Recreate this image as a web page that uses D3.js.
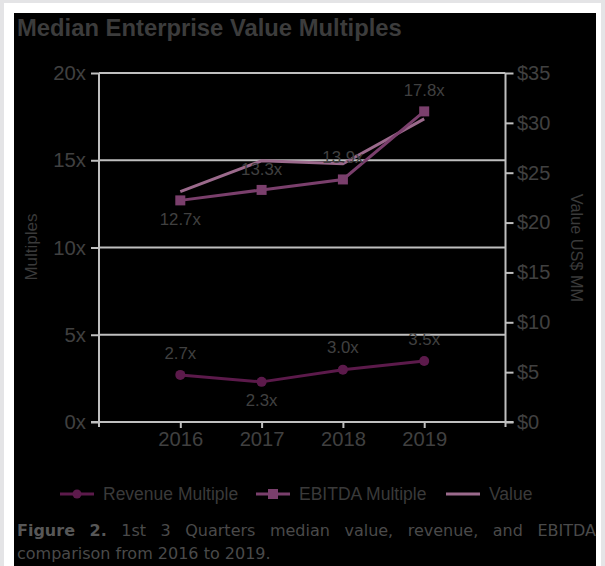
<!DOCTYPE html>
<html><head><meta charset="utf-8">
<script src="https://cdn.jsdelivr.net/npm/d3@7"></script>
<style>
html,body{margin:0;padding:0;background:#fff;}
svg{display:block;}
</style></head>
<body>
<script>
const years = [2016, 2017, 2018, 2019];
const revenueMultiple = [2.7, 2.3, 3.0, 3.5];
const ebitdaMultiple = [12.7, 13.3, 13.9, 17.8];
const valueMM = [23.1, 26.2, 25.9, 30.4];
const leftTicks = [0, 5, 10, 15, 20];
const rightTicks = [0, 5, 10, 15, 20, 25, 30, 35];
const seriesNames = ["Revenue Multiple", "EBITDA Multiple", "Value"];
const title = "Median Enterprise Value Multiples";
const captionLine1 = "1st 3 Quarters median value, revenue, and EBITDA";
const captionLine2 = "comparison from 2016 to 2019.";

const W = 605, H = 566;
const svg = d3.select("body").append("svg").attr("width", W).attr("height", H);

// frame
svg.append("rect").attr("x",0).attr("y",0).attr("width",W).attr("height",H).attr("fill","#e4e4e6");
svg.append("rect").attr("x",4).attr("y",3).attr("width",597).attr("height",H).attr("fill","#ffffff");
svg.append("rect").attr("x",14).attr("y",13).attr("width",582).attr("height",H).attr("fill","#000000");

const cRev = "#5c1a4b", cEb = "#7a3f6c", cVal = "#9b6a8c";
const txt = "#404040", grid = "#bfbfbf";
const font = "'Liberation Sans', Arial, sans-serif";

svg.append("text").attr("x",17).attr("y",36).text(title)
  .attr("font-family",font).attr("font-weight","bold").attr("font-size",23.8).attr("fill","#3c3c3c");

const x0 = 99, x1 = 505.5, yTop = 73, yBot = 422;
const x = d3.scaleLinear().domain([2015, 2020]).range([x0, x1]);
const yL = d3.scaleLinear().domain([0, 20]).range([yBot, yTop]);
const yR = d3.scaleLinear().domain([0, 35]).range([yBot, yTop]);

// gridlines
svg.append("g").selectAll("line").data(leftTicks.filter(d=>d>0)).join("line")
  .attr("x1", x0).attr("x2", x1).attr("y1", d=>yL(d)).attr("y2", d=>yL(d))
  .attr("stroke", grid).attr("stroke-width", 2);

// left axis
const gl = svg.append("g").attr("transform",`translate(${x0},0)`)
  .call(d3.axisLeft(yL).tickValues(leftTicks).tickFormat(d=>d+"x").tickSizeOuter(0).tickSize(8).tickPadding(5));
gl.select(".domain").remove();
gl.selectAll("line").attr("stroke",grid).attr("stroke-width",2);
gl.selectAll("text").attr("font-family",font).attr("font-size",20.3).attr("fill",txt);
svg.append("line").attr("x1",x0).attr("x2",x0).attr("y1",yTop).attr("y2",yBot+5).attr("stroke",grid).attr("stroke-width",2);

// right axis
const gr = svg.append("g").attr("transform",`translate(${x1},0)`)
  .call(d3.axisRight(yR).tickValues(rightTicks).tickFormat(d=>"$"+d).tickSizeOuter(0).tickSize(8).tickPadding(3.5));
gr.select(".domain").remove();
gr.selectAll("line").attr("stroke",grid).attr("stroke-width",2);
gr.selectAll("text").attr("font-family",font).attr("font-size",20).attr("fill",txt);
svg.append("line").attr("x1",x1).attr("x2",x1).attr("y1",yTop).attr("y2",yBot+5).attr("stroke",grid).attr("stroke-width",2);

// bottom axis
const gb = svg.append("g").attr("transform",`translate(0,${yBot})`)
  .call(d3.axisBottom(x).tickValues(years).tickFormat(d3.format("d")).tickSizeOuter(0).tickSize(6).tickPadding(4));
gb.select(".domain").remove();
gb.selectAll("line").attr("stroke",grid).attr("stroke-width",2);
gb.selectAll("text").attr("font-family",font).attr("font-size",20.2).attr("fill",txt);
svg.append("line").attr("x1",x0-8).attr("x2",x1+8).attr("y1",yBot).attr("y2",yBot).attr("stroke",grid).attr("stroke-width",2);

// axis titles
svg.append("text").attr("transform",`translate(31,247) rotate(-90)`).attr("text-anchor","middle").attr("dy","0.35em")
  .attr("font-family",font).attr("font-size",17).attr("fill","#3a3a3a").text("Multiples");
svg.append("text").attr("transform",`translate(577,248) rotate(90)`).attr("text-anchor","middle").attr("dy","0.35em")
  .attr("font-family",font).attr("font-size",16.3).attr("fill","#3a3a3a").text("Value US$ MM");

// lines
const lineR = d3.line().x((d,i)=>x(years[i])).y(d=>yR(d));
const lineL = d3.line().x((d,i)=>x(years[i])).y(d=>yL(d));
svg.append("path").datum(valueMM).attr("d",lineR).attr("fill","none").attr("stroke",cVal).attr("stroke-width",3);

svg.append("path").datum(ebitdaMultiple).attr("d",lineL).attr("fill","none").attr("stroke",cEb).attr("stroke-width",3);
svg.append("g").selectAll("rect").data(ebitdaMultiple).join("rect")
  .attr("x",(d,i)=>x(years[i])-5).attr("y",d=>yL(d)-5).attr("width",10).attr("height",10).attr("fill",cEb);

svg.append("path").datum(revenueMultiple).attr("d",lineL).attr("fill","none").attr("stroke",cRev).attr("stroke-width",3);
svg.append("g").selectAll("circle").data(revenueMultiple).join("circle")
  .attr("cx",(d,i)=>x(years[i])).attr("cy",d=>yL(d)).attr("r",5).attr("fill",cRev);

// data labels
const revOff = [-22, 18, -22.5, -22];
const ebOff = [18.5, -21, -22.5, -21];
svg.append("g").selectAll("text").data(revenueMultiple).join("text")
  .attr("x",(d,i)=>x(years[i])).attr("y",(d,i)=>yL(d)+revOff[i]).attr("dy","0.35em").attr("text-anchor","middle")
  .attr("font-family",font).attr("font-size",16.8).attr("fill",txt).text(d=>d.toFixed(1)+"x");
svg.append("g").selectAll("text").data(ebitdaMultiple).join("text")
  .attr("x",(d,i)=>x(years[i])).attr("y",(d,i)=>yL(d)+ebOff[i]).attr("dy","0.35em").attr("text-anchor","middle")
  .attr("font-family",font).attr("font-size",16.8).attr("fill",txt).text(d=>d.toFixed(1)+"x");

// legend
const legX = [60, 256, 446];
const colors = [cRev, cEb, cVal];
const lg = svg.append("g");
seriesNames.forEach((n,i)=>{
  const ly = 494;
  lg.append("line").attr("x1",legX[i]).attr("x2",legX[i]+34).attr("y1",ly).attr("y2",ly).attr("stroke",colors[i]).attr("stroke-width",3);
  if(i===0) lg.append("circle").attr("cx",legX[i]+17).attr("cy",ly).attr("r",4.5).attr("fill",colors[i]);
  if(i===1) lg.append("rect").attr("x",legX[i]+12).attr("y",ly-5).attr("width",10).attr("height",10).attr("fill",colors[i]);
  lg.append("text").attr("x",legX[i]+43).attr("y",ly).attr("dy","0.35em").attr("font-family",font).attr("font-size",17.5).attr("fill","#3a3a3a").text(n);
});

// caption, justified
const capFont = "'DejaVu Sans', Verdana, sans-serif";
const capSize = 16, capColor = "#4a4a4a";
const cap = svg.append("g");
const words1 = [{t:"Figure", b:true},{t:"2.", b:true}].concat(captionLine1.split(" ").map(t=>({t,b:false})));
const l1 = 17, r1 = 596;
const nodes = words1.map(w=> cap.append("text").attr("y",536).attr("font-family",capFont).attr("font-size",capSize)
  .attr("font-weight", w.b?"bold":"normal").attr("fill", w.b?"#575757":capColor).text(w.t));
const widths = nodes.map(n=>n.node().getComputedTextLength());
const total = d3.sum(widths);
const gap = (r1 - l1 - total)/(nodes.length-1);
let cx = l1;
nodes.forEach((n,i)=>{ n.attr("x",cx); cx += widths[i] + gap; });
cap.append("text").attr("x",l1).attr("y",559).attr("font-family",capFont).attr("font-size",capSize).attr("fill",capColor).text(captionLine2);
</script>
</body></html>
